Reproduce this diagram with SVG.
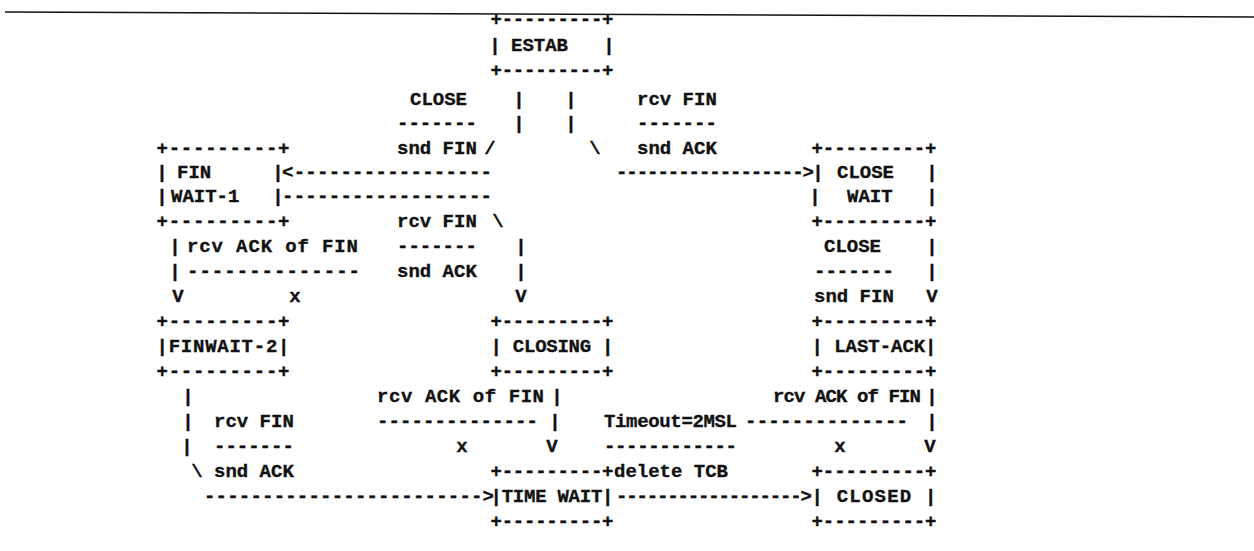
<svg xmlns="http://www.w3.org/2000/svg" width="1254" height="551" viewBox="0 0 1254 551">
<style>
text{font-family:"Liberation Mono","Courier New",monospace;font-weight:bold;font-size:19px;fill:#111;stroke:#111;stroke-width:0.35px;}
.c{text-anchor:middle}
</style>
<rect width="1254" height="551" fill="#fff"/>
<line x1="5" y1="12" x2="1254" y2="17" stroke="#111" stroke-width="1.6"/>

<g id="estab">
<text x="490.5" y="25" textLength="123" lengthAdjust="spacing">+---------+</text>
<text class="c" x="495" y="51">|</text>
<text x="511" y="51">ESTAB</text>
<text class="c" x="609" y="51">|</text>
<text x="490.5" y="76" textLength="123" lengthAdjust="spacing">+---------+</text>
</g>

<g id="fin-wait-1">
<text x="156.5" y="154" textLength="133" lengthAdjust="spacing">+---------+</text>
<text class="c" x="162" y="178">|</text>
<text x="177" y="178">FIN</text>
<text class="c" x="162" y="202">|</text>
<text x="171" y="202">WAIT-1</text>
<text x="156.5" y="227" textLength="133" lengthAdjust="spacing">+---------+</text>
</g>

<g id="close-wait">
<text x="811.5" y="154" textLength="125" lengthAdjust="spacing">+---------+</text>
<text x="837" y="178">CLOSE</text>
<text class="c" x="932" y="178">|</text>
<text class="c" x="815" y="202">|</text>
<text x="847" y="202">WAIT</text>
<text class="c" x="932" y="202">|</text>
<text x="811.5" y="227" textLength="125" lengthAdjust="spacing">+---------+</text>
</g>

<g id="fin-wait-2">
<text x="156.5" y="327" textLength="133" lengthAdjust="spacing">+---------+</text>
<text x="156.5" y="352" textLength="133" lengthAdjust="spacing">|FINWAIT-2|</text>
<text x="156.5" y="377" textLength="133" lengthAdjust="spacing">+---------+</text>
</g>

<g id="closing">
<text x="490.5" y="327" textLength="123" lengthAdjust="spacing">+---------+</text>
<text x="490.5" y="352" textLength="123" lengthAdjust="spacing">| CLOSING |</text>
<text x="490.5" y="377" textLength="123" lengthAdjust="spacing">+---------+</text>
</g>

<g id="last-ack">
<text x="811.5" y="327" textLength="125" lengthAdjust="spacing">+---------+</text>
<text x="811.5" y="352" textLength="125" lengthAdjust="spacing">| LAST-ACK|</text>
<text x="811.5" y="377" textLength="125" lengthAdjust="spacing">+---------+</text>
</g>

<g id="time-wait">
<text x="490.5" y="477" textLength="123" lengthAdjust="spacing">+---------+</text>
<text x="490.5" y="502" textLength="123" lengthAdjust="spacing">|TIME WAIT|</text>
<text x="490.5" y="527" textLength="123" lengthAdjust="spacing">+---------+</text>
</g>

<g id="closed">
<text x="811.5" y="477" textLength="125" lengthAdjust="spacing">+---------+</text>
<text x="811.5" y="502" textLength="125" lengthAdjust="spacing">| CLOSED  |</text>
<text x="811.5" y="527" textLength="125" lengthAdjust="spacing">+---------+</text>
</g>

<g id="connectors">
<!-- ESTAB -> FIN WAIT-1 -->
<text x="410" y="105">CLOSE</text>
<text x="397" y="129">-------</text>
<text x="397" y="154">snd FIN</text>
<text class="c" x="519" y="105">|</text>
<text class="c" x="519" y="129">|</text>
<text class="c" x="490" y="154">/</text>
<text class="c" x="278" y="178">|</text>
<text x="282" y="178" textLength="210" lengthAdjust="spacing">&lt;-----------------</text>
<!-- ESTAB -> CLOSE WAIT -->
<text class="c" x="571" y="105">|</text>
<text class="c" x="571" y="129">|</text>
<text class="c" x="595" y="154">\</text>
<text x="637" y="105">rcv FIN</text>
<text x="637" y="129">-------</text>
<text x="637" y="154">snd ACK</text>
<text x="616" y="178" textLength="198" lengthAdjust="spacing">------------------&gt;</text>
<text class="c" x="818" y="178">|</text>
<!-- FIN WAIT-1 -> CLOSING -->
<text class="c" x="278" y="202">|</text>
<text x="282" y="202" textLength="210" lengthAdjust="spacing">------------------</text>
<text x="397" y="227">rcv FIN</text>
<text class="c" x="498" y="227">\</text>
<text x="397" y="252">-------</text>
<text class="c" x="521" y="252">|</text>
<text x="397" y="277">snd ACK</text>
<text class="c" x="521" y="277">|</text>
<text class="c" x="521" y="302">V</text>
<!-- FIN WAIT-1 -> FIN WAIT-2 -->
<text class="c" x="175" y="252">|</text>
<text x="187" y="252" textLength="171" lengthAdjust="spacing">rcv ACK of FIN</text>
<text class="c" x="175" y="277">|</text>
<text x="187" y="277" textLength="173" lengthAdjust="spacing">--------------</text>
<text class="c" x="178" y="302">V</text>
<text class="c" x="295" y="302">x</text>
<!-- CLOSE WAIT -> LAST-ACK -->
<text x="824" y="252">CLOSE</text>
<text class="c" x="932" y="252">|</text>
<text x="814" y="277">-------</text>
<text class="c" x="932" y="277">|</text>
<text x="814" y="302">snd FIN</text>
<text class="c" x="932" y="302">V</text>
<!-- FIN WAIT-2 -> TIME WAIT -->
<text class="c" x="188" y="402">|</text>
<text class="c" x="188" y="427">|</text>
<text class="c" x="187" y="452">|</text>
<text x="214" y="427">rcv FIN</text>
<text x="214" y="452">-------</text>
<text class="c" x="197" y="477">\</text>
<text x="214" y="477">snd ACK</text>
<text x="204" y="502" textLength="290" lengthAdjust="spacing">------------------------&gt;</text>
<!-- CLOSING -> TIME WAIT -->
<text x="377" y="402" textLength="167" lengthAdjust="spacing">rcv ACK of FIN</text>
<text class="c" x="557" y="402">|</text>
<text x="377" y="427" textLength="161" lengthAdjust="spacing">--------------</text>
<text class="c" x="555" y="427">|</text>
<text class="c" x="462" y="452">x</text>
<text class="c" x="552" y="452">V</text>
<!-- TIME WAIT -> CLOSED -->
<text x="604" y="427" textLength="133" lengthAdjust="spacing">Timeout=2MSL</text>
<text x="604" y="452" textLength="133" lengthAdjust="spacing">------------</text>
<text x="614" y="477">delete TCB</text>
<text x="616" y="502" textLength="196" lengthAdjust="spacing">------------------&gt;</text>
<!-- LAST-ACK -> CLOSED -->
<text x="773" y="402" textLength="148" lengthAdjust="spacing">rcv ACK of FIN</text>
<text class="c" x="932" y="402">|</text>
<text x="745" y="427" textLength="163" lengthAdjust="spacing">--------------</text>
<text class="c" x="932" y="427">|</text>
<text class="c" x="840" y="452">x</text>
<text class="c" x="930" y="452">V</text>
</g>
</svg>
